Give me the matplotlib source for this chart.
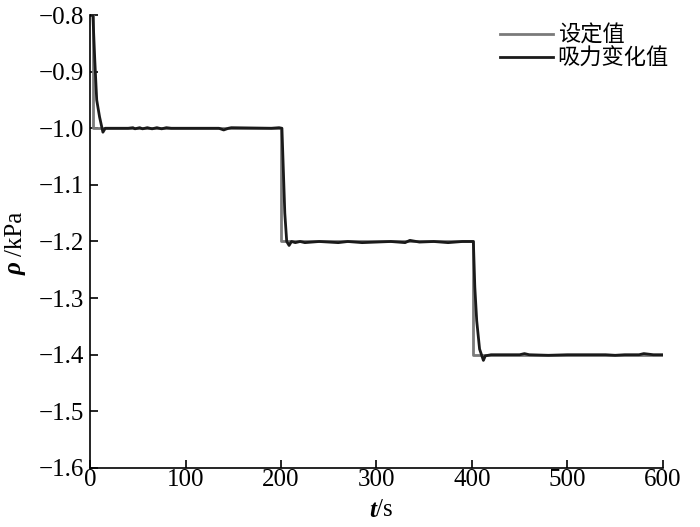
import matplotlib
matplotlib.use("Agg")
import matplotlib.pyplot as plt

# Setpoint (设定值)
set_t = [0, 3, 3, 200.5, 200.5, 400.8, 400.8, 600]
set_v = [-0.8, -0.8, -1.0, -1.0, -1.2, -1.2, -1.4, -1.4]

# Measured suction (吸力变化值)
meas_t = [0, 3, 4, 5, 7, 10, 13.5, 16, 40, 45, 47, 52, 55, 60, 65, 70, 75, 80, 85,
          135, 140, 145, 148, 190, 198, 201, 202, 204, 206, 208.5, 211, 215, 220, 225,
          240, 260, 270, 285, 300, 315, 330, 335, 345, 360, 375, 390, 398,
          401.5, 403, 405, 408, 410, 412, 414, 420, 450, 455, 460, 480, 500, 540, 550,
          560, 575, 580, 590, 596, 600]
meas_v = [-0.8, -0.8, -0.84, -0.88, -0.95, -0.98, -1.007, -1.0, -1.0, -0.999, -1.001, -0.999,
          -1.001, -0.999, -1.001, -0.999, -1.001, -0.999, -1.0,
          -1.0, -1.003, -1.0, -0.999, -1.0, -0.999, -1.0, -1.05, -1.15, -1.2, -1.207, -1.2,
          -1.202, -1.2, -1.202, -1.2, -1.202, -1.2, -1.202, -1.201, -1.2, -1.202, -1.198,
          -1.201, -1.2, -1.202, -1.2, -1.2,
          -1.2, -1.28, -1.34, -1.39, -1.40, -1.41, -1.402, -1.4, -1.4, -1.398, -1.4,
          -1.401, -1.4, -1.4, -1.401, -1.4, -1.4, -1.398, -1.4, -1.4, -1.4]

x_ticks = [0, 100, 200, 300, 400, 500, 600]
y_ticks = [-0.8, -0.9, -1.0, -1.1, -1.2, -1.3, -1.4, -1.5, -1.6]

plt.rcParams['font.family'] = ['Liberation Serif', 'Noto Sans CJK SC']
fig = plt.figure(figsize=(7, 5.27), dpi=100)
ax = fig.add_axes([0.1286, 0.112, 0.8184, 0.8595])

ax.plot(set_t, set_v, color='#7a7a7a', lw=2.0, label='设定值')
ax.plot(meas_t, meas_v, color='#1a1a1a', lw=2.0, label='吸力变化值')

ax.set_xlim(0, 600)
ax.set_ylim(-1.6, -0.8)
ax.set_xticks(x_ticks)
ax.set_yticks(y_ticks)
ax.set_xticklabels([str(v) for v in x_ticks])
ax.set_yticklabels([f"\u2212{abs(v):.1f}" for v in y_ticks])
for s in ['top', 'right']:
    ax.spines[s].set_visible(False)
for s in ['left', 'bottom']:
    ax.spines[s].set_linewidth(1.2)
ax.tick_params(direction='in', length=6, width=1.2, labelsize=18)
ax.tick_params(axis='x', pad=1)
ax.tick_params(axis='y', pad=4)

ax.text(0.5, -0.068, 't', transform=ax.transAxes, fontsize=18, fontstyle='italic',
        fontweight='bold', ha='right', va='top')
ax.text(0.5, -0.068, '/s', transform=ax.transAxes, fontsize=18,
        ha='left', va='top')
ax.text(-0.13, 0.425, 'ρ', transform=ax.transAxes, fontsize=18, fontstyle='italic',
        fontweight='bold', rotation=90, ha='center', va='bottom')
ax.text(-0.13, 0.468, '/kPa', transform=ax.transAxes, fontsize=18,
        rotation=90, ha='center', va='bottom')

leg = ax.legend(loc='upper right', bbox_to_anchor=(1.03, 1.005), frameon=False,
                prop={'family': ['Noto Sans CJK SC'], 'size': 16},
                handlelength=2.4, handletextpad=0.2, labelspacing=0.0, borderaxespad=0.1)

fig.savefig('out.png', dpi=100)
